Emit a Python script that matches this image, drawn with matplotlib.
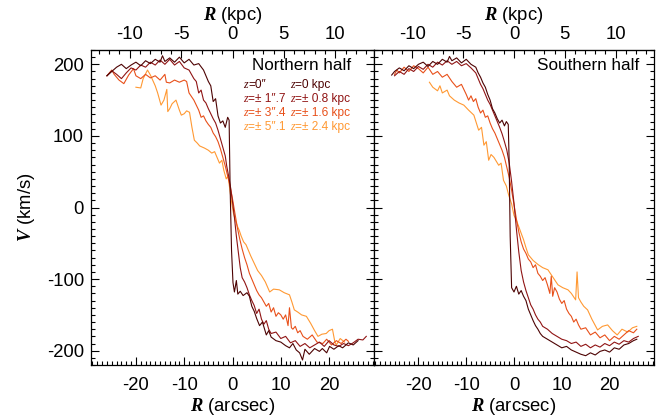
import matplotlib
matplotlib.use('Agg')
import matplotlib.pyplot as plt
from matplotlib.ticker import MultipleLocator
from matplotlib.transforms import offset_copy
import numpy as np

plt.rcParams['font.family'] = ['Liberation Sans', 'DejaVu Sans']
plt.rcParams['mathtext.fontset'] = 'custom'
plt.rcParams['mathtext.rm'] = 'Liberation Sans'
plt.rcParams['mathtext.it'] = 'Liberation Serif:italic'
plt.rcParams['mathtext.bf'] = 'Liberation Serif:bold:italic'
plt.rcParams['axes.unicode_minus'] = False

# rotation curves (R arcsec, V km/s)
north_z0 = [(-26, 184), (-25, 190), (-24, 196), (-23, 200), (-22, 194), (-21, 199), (-20, 203), (-19, 198),
            (-18, 205), (-17, 201), (-16, 207), (-15, 203), (-14.5, 212), (-14, 204), (-13, 209), (-12, 203),
            (-11, 210), (-10, 202), (-9, 207), (-8, 199), (-7, 201), (-6, 192), (-5, 176), (-4.5, 170),
            (-4, 148), (-3.5, 152), (-3, 128), (-2.5, 118), (-2, 121), (-1.5, 112), (-1, 126), (-0.7, 122),
            (-0.5, 30), (-0.2, -60), (0.1, -105), (0.4, -118), (0.8, -102), (1.1, -121), (1.6, -117),
            (2.2, -123), (3, -119), (3.5, -124), (4, -138), (4.5, -145), (5, -155), (5.6, -165), (6.2, -160),
            (7, -178), (7.5, -172), (8, -181), (9, -186), (10, -188), (11, -193), (11.8, -196), (12.5, -190),
            (13.2, -199), (13.9, -203), (14.5, -213), (15, -198), (15.9, -205), (17, -197), (18, -201),
            (18.6, -197), (19.5, -203), (20.1, -194), (21, -198), (22, -193), (22.8, -196), (24, -189),
            (25, -192), (26, -186)]
north_z1 = [(-26, 184), (-25, 191), (-24, 186), (-23, 180), (-22, 188), (-21, 195), (-20, 192), (-19, 199),
            (-18, 196), (-17, 203), (-16, 199), (-15, 206), (-14, 200), (-13, 207), (-12, 199), (-11, 204),
            (-10, 195), (-9, 192), (-8, 180), (-7.5, 176), (-7, 160), (-6.5, 164), (-6, 150), (-5.5, 146),
            (-5, 138), (-4.5, 131), (-4, 124), (-3.5, 118), (-3, 108), (-2.5, 96), (-2, 84), (-1.5, 72),
            (-1.2, 58), (-0.8, 44), (-0.4, 28), (0, 8), (0.4, -14), (0.8, -40), (1.2, -62), (1.6, -84),
            (2, -98), (2.5, -104), (3, -112), (3.5, -122), (4, -130), (4.5, -137), (5, -148), (5.5, -142),
            (6, -156), (6.5, -163), (7, -158), (7.5, -170), (8, -176), (9, -174), (10, -183), (11, -180),
            (12, -189), (13, -186), (14, -194), (15, -190), (16, -196), (17, -192), (18, -188), (19, -194),
            (20, -186), (21, -192), (22, -194), (23, -190), (24, -193), (25, -189), (26, -184), (27, -185),
            (27.7, -180)]
north_z2 = [(-26, 184), (-25, 192), (-24.5, 186), (-23.5, 178), (-22.5, 173), (-21.5, 185), (-20.5, 194),
            (-20, 184), (-19, 180), (-18, 186), (-17, 181), (-16, 184), (-15, 178), (-14, 186), (-13.7, 175),
            (-13, 174), (-12, 178), (-11, 175), (-10, 178), (-9.5, 176), (-9, 160), (-8, 150), (-7, 136),
            (-6.5, 126), (-6, 128), (-5.5, 121), (-5, 116), (-4.5, 112), (-4, 104), (-3.5, 99), (-3, 92),
            (-2.5, 82), (-2, 70), (-1.5, 58), (-1, 44), (-0.5, 30), (0, 12), (0.5, -8), (1, -28), (1.5, -44),
            (2, -58), (2.5, -70), (3, -80), (3.5, -92), (4, -100), (4.5, -108), (5, -116), (5.5, -122),
            (6, -126), (6.5, -132), (7, -138), (7.5, -134), (8, -146), (8.5, -140), (9, -152), (9.5, -147),
            (10, -150), (10.5, -156), (11, -150), (11.5, -165), (11.8, -140), (12.2, -168), (12.5, -170),
            (13, -166), (13.5, -175), (14, -172), (14.6, -180), (15.5, -184), (16.5, -178), (17.5, -188),
            (18.7, -190), (19.5, -184), (20.5, -192), (21.5, -186), (22.5, -190), (23.5, -184), (24, -187)]
north_z3 = [(-20, 168), (-19, 167), (-18.5, 180), (-17.6, 192), (-17, 185), (-16, 170), (-15.5, 160),
            (-14.8, 143), (-14.2, 150), (-13.6, 165), (-13.4, 134), (-13, 138), (-12.5, 145), (-11.7, 150),
            (-11, 136), (-10.6, 129), (-10, 131), (-9.5, 135), (-8.9, 133), (-8.4, 112), (-7.9, 94),
            (-7.3, 90), (-6.8, 86), (-5.8, 83), (-5, 80), (-4.3, 76), (-3.7, 78), (-3.2, 70), (-2.7, 62),
            (-2.2, 66), (-1.8, 52), (-1.3, 40), (-0.9, 44), (-0.5, 22), (-0.2, 8), (0.2, -8), (0.6, -18),
            (1, -26), (1.4, -32), (1.8, -40), (2.3, -48), (2.8, -52), (3.3, -60), (3.8, -68), (4.5, -78),
            (5.2, -88), (6, -95), (6.8, -104), (7.7, -118), (8.5, -114), (9.7, -115), (10.7, -119),
            (11.8, -122), (12.3, -132), (12.8, -143), (13.5, -146), (14.3, -150), (15.3, -152), (16.2, -162),
            (17, -172), (17.7, -180), (18.5, -177), (19.4, -176), (20, -172), (20.7, -170), (21.2, -188),
            (21.5, -192), (22.3, -183), (23.2, -188)]

south_z0 = [(-25.6, 185), (-25, 190), (-24, 195), (-23, 191), (-22, 198), (-21, 194), (-20, 200), (-19, 203),
            (-18, 197), (-17, 204), (-16, 200), (-15, 207), (-14, 203), (-13.5, 211), (-13, 205), (-12, 209),
            (-11, 202), (-10, 207), (-9, 200), (-8, 196), (-7.5, 188), (-7, 182), (-6.5, 174), (-6, 168),
            (-5.5, 158), (-5, 150), (-4.5, 138), (-4, 132), (-3.5, 124), (-3, 118), (-2.5, 122), (-2, 114),
            (-1.6, 120), (-1.2, 116), (-1.0, 60), (-0.8, -40), (-0.5, -112), (0, -118), (0.5, -110),
            (1, -121), (1.5, -116), (2, -124), (2.5, -130), (3, -142), (3.5, -150), (4, -158), (4.5, -165),
            (5, -170), (5.5, -176), (6, -180), (7, -184), (8, -188), (9, -192), (10, -196), (11, -194),
            (12, -199), (13, -202), (14, -205), (15, -207), (16, -203), (17, -206), (18, -201), (19, -199),
            (20, -202), (21, -196), (22, -198), (23, -192), (24, -190), (25, -186), (25.7, -184)]
south_z1 = [(-25, 184), (-24, 190), (-23, 186), (-22, 194), (-21, 190), (-20, 197), (-19, 193), (-18, 200),
            (-17, 196), (-16, 203), (-15, 199), (-14, 205), (-13, 200), (-12, 204), (-11, 198), (-10, 201),
            (-9, 195), (-8, 188), (-7.5, 180), (-7, 172), (-6.5, 166), (-6, 158), (-5.5, 150), (-5, 144),
            (-4.5, 136), (-4, 128), (-3.5, 120), (-3, 112), (-2.5, 103), (-2, 92), (-1.5, 80), (-1, 62),
            (-0.5, 36), (0, 6), (0.5, -30), (1, -62), (1.5, -88), (2, -104), (2.5, -116), (3, -126),
            (3.5, -136), (4, -142), (4.5, -150), (5, -156), (5.5, -160), (6, -166), (7, -170), (8, -176),
            (9, -180), (10, -184), (11, -186), (12, -190), (13, -188), (14, -194), (15, -191), (16, -196),
            (17, -192), (18, -195), (19, -190), (20, -193), (21, -188), (22, -191), (23, -186), (24, -188),
            (25, -183), (26, -180)]
south_z2 = [(-25, 186), (-24.5, 192), (-24, 188), (-23, 196), (-22, 190), (-21, 198), (-20, 194), (-19, 188),
            (-18, 196), (-17, 186), (-16, 190), (-15, 182), (-14, 186), (-13, 176), (-12, 168), (-11, 172),
            (-10, 158), (-9.5, 150), (-9, 156), (-8.5, 148), (-8, 152), (-7.5, 140), (-7, 132), (-6.5, 136),
            (-6, 126), (-5.5, 128), (-5, 118), (-4.5, 110), (-4, 104), (-3.5, 96), (-3, 88), (-2.5, 80),
            (-2, 70), (-1.5, 56), (-1, 42), (-0.5, 24), (0, 4), (0.5, -16), (1, -34), (1.5, -48), (2, -58),
            (2.5, -64), (3, -72), (3.5, -76), (4, -84), (4.5, -80), (5, -92), (5.5, -96), (6, -102),
            (6.5, -98), (7, -108), (7.5, -120), (7.8, -96), (8.1, -124), (8.5, -112), (9, -118), (9.5, -128),
            (10, -134), (10.5, -130), (11, -142), (11.5, -148), (12, -152), (12.5, -160), (13, -156),
            (13.5, -164), (14, -170), (15, -168), (16, -178), (17, -174), (18, -182), (19, -178), (20, -186),
            (21, -180), (22, -184), (23, -178), (24, -172), (25, -175), (25.7, -170)]
south_z3 = [(-17.7, 175), (-17, 168), (-16, 163), (-15.5, 170), (-15, 160), (-14, 164), (-13.5, 156),
            (-12.5, 150), (-11.5, 146), (-10.5, 143), (-9.5, 136), (-8.4, 129), (-7.4, 108), (-6.8, 112),
            (-6.3, 87), (-5.8, 92), (-5.3, 66), (-4.8, 74), (-4.2, 70), (-3.2, 59), (-2.7, 62), (-2.2, 38),
            (-1.6, 30), (-1.1, 17), (-0.5, 5), (0, -11), (0.5, -18), (0.9, -25), (1.5, -36), (2, -45),
            (2.5, -56), (3, -66), (4, -74), (5.1, -80), (6, -84), (7.1, -87), (8, -96), (8.6, -102),
            (9.2, -108), (10.2, -112), (11.3, -115), (12, -120), (12.9, -129), (13.2, -90), (13.5, -126),
            (14, -132), (14.6, -138), (15.4, -143), (16.3, -156), (17.5, -171), (18.5, -166), (19.6, -164),
            (20.6, -172), (21.6, -178), (22.6, -170), (23.8, -174), (24.8, -168), (25.7, -166)]

colors = ['#4d0303', '#901414', '#e8501a', '#ff9933']
# text after the italic "z" in each legend row
legend_left = ['=0\u2033', '=\u00b1 1\u2033.7', '=\u00b1 3\u2033.4', '=\u00b1 5\u2033.1']
legend_right = ['=0 kpc', '=\u00b1 0.8 kpc', '=\u00b1 1.6 kpc', '=\u00b1 2.4 kpc']
kpc_per_arcsec = 0.47

fig = plt.figure(figsize=(6.57, 4.2), dpi=100)
ax1 = fig.add_axes([91/657, 55/420, 283/657, 315/420])
ax2 = fig.add_axes([374/657, 55/420, 280/657, 315/420])

def draw(ax, curves, title, tx):
    # draw the darkest last so it sits on top
    for k in [3, 2, 1, 0]:
        r = np.array([p[0] for p in curves[k]])
        v = np.array([p[1] for p in curves[k]])
        ax.plot(r, v, color=colors[k], lw=0.8)
    ax.set_xlim(-29.3, 29.3)
    ax.set_ylim(-220, 220)
    ax.xaxis.set_major_locator(MultipleLocator(10))
    ax.xaxis.set_minor_locator(MultipleLocator(1))
    ax.yaxis.set_major_locator(MultipleLocator(100))
    ax.yaxis.set_minor_locator(MultipleLocator(10))
    ax.tick_params(which='both', direction='in', top=False, right=True, left=True, labelsize=13.3, width=0.8)
    ax.tick_params(which='major', length=6)
    ax.tick_params(which='minor', length=3)
    ax.tick_params(axis='x', pad=9)
    ax.tick_params(axis='y', pad=5)
    for s in ax.spines.values():
        s.set_linewidth(0.9)
    ax.set_xlabel('$\\mathbf{R}$ (arcsec)', fontsize=13.3, labelpad=1)
    ax.text(tx, 0.937, title, transform=ax.transAxes, fontsize=12.3, va='baseline')

    sec = ax.secondary_xaxis('top', functions=(lambda r: r * kpc_per_arcsec, lambda k: k / kpc_per_arcsec))
    sec.set_xticks([-10, -5, 0, 5, 10])
    sec.xaxis.set_minor_locator(MultipleLocator(1))
    sec.tick_params(which='both', direction='in', labelsize=13.3, width=0.8, pad=5)
    sec.tick_params(which='major', length=6)
    sec.tick_params(which='minor', length=3)
    sec.set_xlabel('$\\mathbf{R}$ (kpc)', fontsize=13.3, labelpad=4)

draw(ax1, [north_z0, north_z1, north_z2, north_z3], 'Northern half', 0.569)
draw(ax2, [south_z0, south_z1, south_z2, south_z3], 'Southern half', 0.582)
ax1.set_ylabel('$\\mathbf{V}$ (km/s)', fontsize=13.3, labelpad=7)
ax2.tick_params(labelleft=False)

rows_y = [0.879, 0.835, 0.790, 0.746]
after_z = offset_copy(ax1.transAxes, fig=fig, x=3.6, units='points')
for i in range(4):
    for x0, s in [(0.537, legend_left[i]), (0.703, legend_right[i])]:
        ax1.text(x0, rows_y[i], 'z', transform=ax1.transAxes, color=colors[i], fontsize=8.6,
                 family='Liberation Serif', style='italic', va='baseline')
        ax1.text(x0, rows_y[i], s, transform=after_z, color=colors[i], fontsize=8.6, va='baseline')

fig.savefig('out.png', dpi=100)
